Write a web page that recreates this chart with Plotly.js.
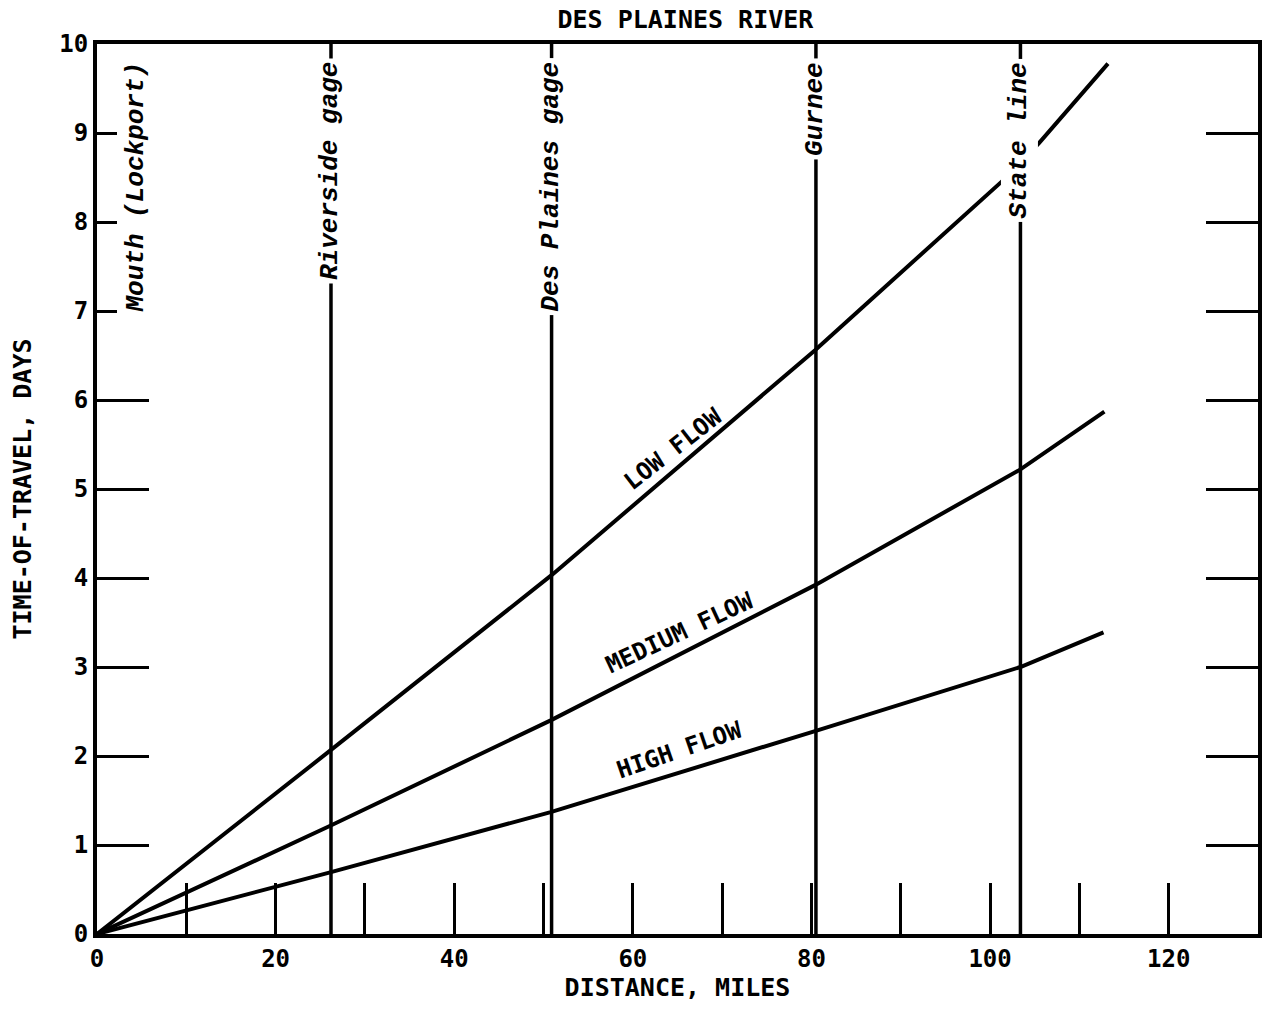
<!DOCTYPE html>
<html>
<head>
<meta charset="utf-8">
<script src="https://cdn.plot.ly/plotly-3.0.1.min.js"></script>
<style>html,body{margin:0;padding:0;background:#fff;}#chart{width:1267px;height:1010px;}</style>
</head>
<body>
<div id="chart"></div>
<script>
// Distance (miles) and time-of-travel (days)
const lowX = [0, 26.1, 51.0, 80.4, 101.7, 105.5, 113.2];
const lowY = [0, 2.06, 4.04, 6.56, 8.49, 8.89, 9.78];
const medX = [0, 26.0, 50.8, 80.4, 103.4, 112.8];
const medY = [0, 1.21, 2.40, 3.92, 5.22, 5.87];
const highX = [0, 26.0, 50.8, 80.4, 103.4, 112.7];
const highY = [0, 0.69, 1.37, 2.28, 3.00, 3.39];

// Locations along the river
const siteNames = ['Mouth (Lockport)', 'Riverside gage', 'Des Plaines gage', 'Gurnee', 'State line'];
const siteMiles = [0, 26.2, 50.9, 80.5, 103.4];

// Curve labels
const flowNames = ['LOW FLOW', 'MEDIUM FLOW', 'HIGH FLOW'];
const flowLabelX = [64.5, 65.2, 65.2];
const flowLabelY = [5.45, 3.38, 2.07];
const flowLabelAngle = [-38, -25, -19];

// Axis ticks
const xTickVals = [0, 10, 20, 30, 40, 50, 60, 70, 80, 90, 100, 110, 120];
const xTickText = ['0', '', '20', '', '40', '', '60', '', '80', '', '100', '', '120'];
const yTickVals = [0, 1, 2, 3, 4, 5, 6, 7, 8, 9, 10];
const yTickText = ['0', '1', '2', '3', '4', '5', '6', '7', '8', '9', '10'];
const xRange = [0, 130];
const yRange = [0, 10];

const MONO = 'DejaVu Sans Mono, monospace';
const TYPE = 'Liberation Mono, Courier New, monospace';

const traces = [];
// site vertical lines (skip mouth = axis)
for (let i = 1; i < siteMiles.length; i++) {
  traces.push({x: [siteMiles[i], siteMiles[i]], y: [yRange[0], yRange[1]], mode: 'lines',
    line: {color: '#000', width: 3.5}, hoverinfo: 'skip', showlegend: false});
}
[[lowX, lowY], [medX, medY], [highX, highY]].forEach(function (s, i) {
  traces.push({x: s[0], y: s[1], mode: 'lines', name: flowNames[i],
    line: {color: '#000', width: 4}, showlegend: false});
});

const annotations = [];
siteNames.forEach(function (name, i) {
  annotations.push({
    x: siteMiles[i], y: yRange[1], xref: 'x', yref: 'y',
    text: '<i><b>' + name + '</b></i>', textangle: -90, showarrow: false,
    xanchor: 'center', yanchor: 'top', yshift: -14, xshift: i === 0 ? 38 : -1,
    bgcolor: '#fff', borderpad: 3,
    font: {family: TYPE, size: 26, color: '#000'}
  });
});
flowNames.forEach(function (name, i) {
  annotations.push({
    x: flowLabelX[i], y: flowLabelY[i], xref: 'x', yref: 'y',
    text: '<b>' + name + '</b>', textangle: flowLabelAngle[i], showarrow: false,
    font: {family: MONO, size: 24, color: '#000'}
  });
});

const layout = {
  width: 1267, height: 1010,
  paper_bgcolor: '#fff', plot_bgcolor: '#fff',
  margin: {l: 97, r: 9, t: 44, b: 76},
  showlegend: false,
  title: {text: '<b>DES PLAINES RIVER</b>', x: 0.541, xref: 'container', xanchor: 'center',
    y: 0.981, yref: 'container', yanchor: 'middle',
    font: {family: MONO, size: 25, color: '#000'}},
  xaxis: {range: xRange, showgrid: false, zeroline: false, showline: true, linewidth: 4,
    linecolor: '#000', mirror: true, ticks: 'inside', ticklen: 51, tickwidth: 3, tickcolor: '#000',
    tickmode: 'array', tickvals: xTickVals, ticktext: xTickText,
    tickfont: {family: MONO, size: 24, color: '#000', weight: 'bold'},
    title: {text: '<b>DISTANCE, MILES</b>', standoff: 8, font: {family: MONO, size: 25, color: '#000'}}},
  yaxis: {range: yRange, showgrid: false, zeroline: false, showline: true, linewidth: 4,
    linecolor: '#000', mirror: 'ticks', ticks: 'inside', ticklen: 52, tickwidth: 3, tickcolor: '#000',
    tickmode: 'array', tickvals: yTickVals, ticktext: yTickText,
    tickfont: {family: MONO, size: 24, color: '#000', weight: 'bold'},
    title: {text: '<b>TIME-OF-TRAVEL, DAYS</b>', standoff: 22, font: {family: MONO, size: 25, color: '#000'}}},
  annotations: annotations
};

Plotly.newPlot('chart', traces, layout, {displayModeBar: false, staticPlot: true});
</script>
</body>
</html>
